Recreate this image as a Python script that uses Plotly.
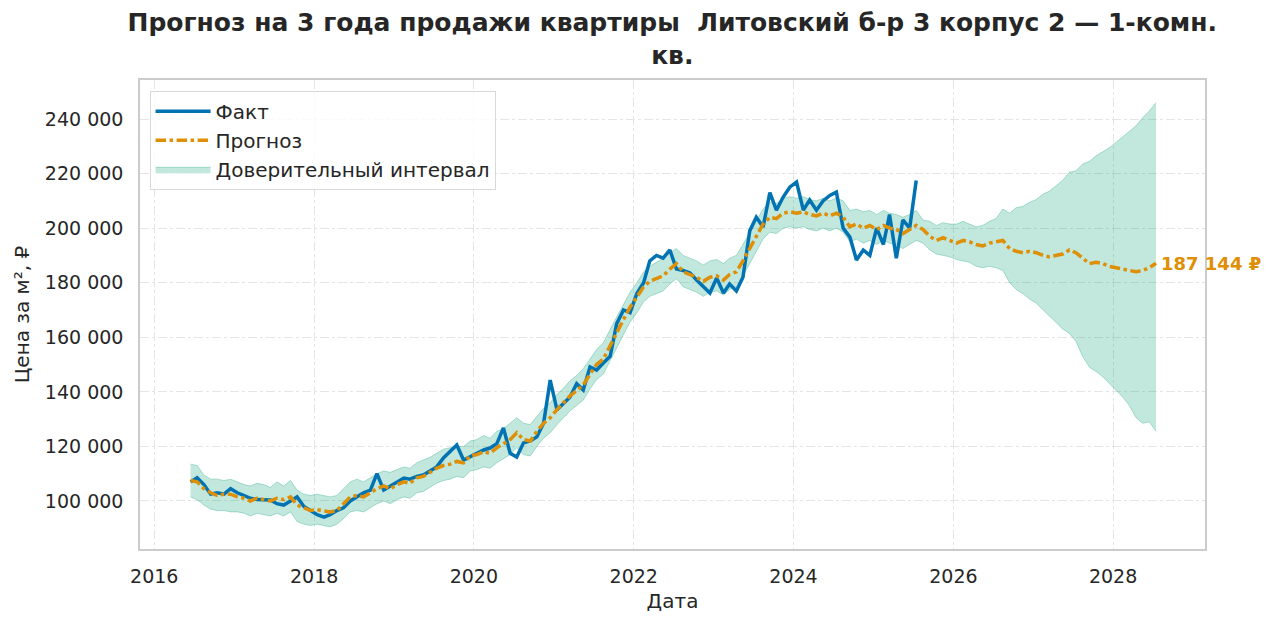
import pandas as pd
import plotly.graph_objects as go

# ---- data (monthly) ----
actual_start = "2016-06-01"
forecast_start = "2016-06-01"

actual_values = [
    # 2016 Jun-Dec
    107000, 108500, 106000, 102500, 103000, 102500, 104500,
    # 2017
    103000, 102000, 101000, 100500, 100500, 100400, 99000, 98500, 100000, 101500, 98000, 96700,
    # 2018
    95000, 94100, 95000, 96500, 97500, 100000, 101500, 103000, 104000, 110000, 104000, 105500,
    # 2019
    107000, 108400, 108000, 109000, 109500, 111000, 112500, 115800, 118000, 120500, 115000, 116100,
    # 2020
    117500, 118700, 119400, 121000, 126800, 117500, 116100, 121300, 122000, 123500, 128600, 144300,
    # 2021
    133400, 135900, 138000, 143000, 140700, 149100, 148000, 150600, 153000, 165000, 170000, 169000,
    # 2022
    176000, 180000, 188000, 190000, 189000, 192000, 185000, 184500, 183600, 181000, 178400, 176200,
    # 2023
    181700, 176200, 179500, 177000, 182000, 199000, 204000, 200400, 213000, 206600, 211400, 215000,
    # 2024
    216900, 206600, 210300, 206600, 210000, 212000, 213200, 200000, 196700, 188300, 192000, 190000,
    # 2025 Jan-Jul
    200000, 194000, 205000, 189000, 203000, 200000, 217500,
]

forecast_values = [
    # 2016 Jun-Dec
    107500, 107000, 104500, 103000, 102000, 102500, 102500,
    # 2017
    101500, 101000, 100000, 101000, 100500, 100000, 101000, 100500, 101500, 98500, 97500, 96500,
    # 2018
    96800, 96500, 96000, 96500, 99000, 101500, 102000, 101500, 103000, 104500, 105500, 104500,
    # 2019
    106000, 107000, 106500, 108500, 109000, 110500, 112000, 113000, 113500, 114500, 114000, 116500,
    # 2020
    117000, 118000, 117500, 119500, 121000, 122500, 125000, 122500, 122000, 125500, 128500, 130500,
    # 2021
    133500, 136000, 138500, 140500, 142500, 146500, 150000, 152000, 157000, 162000, 166500, 171000,
    # 2022
    174500, 178500, 180500, 181500, 182500, 185000, 187000, 184000, 183000, 182000, 180500, 182000,
    # 2023
    182500, 181000, 183000, 184000, 188000, 192500, 197000, 201500, 204000, 203500, 205500, 206000,
    # 2024
    205500, 206000, 205000, 204500, 205500, 204500, 205500, 204000, 200500, 201500, 200000, 201000,
    # 2025
    199500, 201000, 200000, 199500, 198000, 199500, 201000, 199500, 197000, 195500, 196500, 195500,
    # 2026
    194500, 195500, 195000, 194000, 193500, 194500, 195000, 195500, 192500, 191500, 191000, 191500,
    # 2027
    191000, 190000, 189500, 190000, 190500, 192000, 191000, 189000, 187000, 187500, 187000, 186000,
    # 2028 Jan-Jul
    185500, 185000, 184500, 184000, 184500, 185500, 187144,
]

upper_values = [
    # 2016
    113500, 113000, 109500, 108000, 108000, 107500, 108000,
    # 2017
    107000, 106000, 105500, 106500, 106000, 105000, 107000, 105500, 107500, 104000, 102500, 102000,
    # 2018
    102500, 102000, 101500, 102000, 104500, 107000, 108000, 107000, 108500, 110000, 111000, 110500,
    # 2019
    111500, 112500, 112000, 114000, 115000, 116000, 117500, 119000, 119500, 120000, 120000, 122000,
    # 2020
    122500, 124000, 123000, 125500, 126500, 128500, 130500, 128500, 128000, 131000, 134000, 136000,
    # 2021
    139000, 141500, 144000, 146000, 148500, 152000, 155500, 158000, 163000, 167500, 172000, 176500,
    # 2022
    180000, 184000, 186000, 187500, 189000, 191000, 192500, 190000, 189000, 188000, 186500, 188000,
    # 2023
    188500, 187000, 189000, 190000, 194000, 198500, 203000, 207000, 209500, 209000, 211000, 211500,
    # 2024
    211000, 211500, 210500, 210000, 211000, 210000, 211000, 210000, 206500, 207000, 206000, 206500,
    # 2025
    205000, 206500, 205500, 205000, 204000, 205000, 206500, 203000, 202500, 201000, 202000, 201500,
    # 2026
    201500, 202500, 201500, 200500, 201000, 202500, 203500, 207000, 205500, 207500, 208000, 209500,
    # 2027
    210500, 212500, 213500, 215500, 217500, 220500, 221000, 223500, 224500, 226500, 228000, 229500,
    # 2028
    231500, 233500, 235500, 237500, 240500, 243000, 246000,
]

lower_values = [
    # 2016
    101500, 100500, 98500, 97000, 96500, 96500, 96000,
    # 2017
    96000, 95500, 94500, 95500, 95000, 94500, 95500, 94500, 96000, 92500, 91500, 91000,
    # 2018
    91500, 91000, 90500, 91500, 93500, 96000, 96500, 96000, 97500, 99000, 100000, 99000,
    # 2019
    100500, 101500, 101000, 103000, 103500, 105000, 106500, 107500, 108000, 109000, 108500, 111000,
    # 2020
    111500, 112500, 112000, 114000, 115500, 117000, 119500, 117000, 116500, 120000, 123000, 125000,
    # 2021
    128000, 130500, 133000, 135000, 137000, 141000, 144500, 146500, 151500, 156500, 161000, 165500,
    # 2022
    169000, 173000, 175000, 176000, 177000, 179500, 181500, 178500, 177500, 176500, 175000, 176500,
    # 2023
    177000, 175500, 177500, 178500, 182500, 187000, 191500, 196000, 198500, 198000, 200000, 200500,
    # 2024
    200000, 200500, 199500, 199000, 200000, 199000, 200000, 198500, 195000, 196000, 194500, 195500,
    # 2025
    194000, 195500, 194500, 194000, 192500, 194000, 195500, 194500, 192000, 190500, 190000, 189500,
    # 2026
    188500, 188000, 187500, 186000, 185500, 186000, 185500, 184500, 180000, 177500, 176000, 174000,
    # 2027
    172500, 170000, 168000, 165500, 163000, 161500, 158500, 153000, 149000, 147500, 145500, 143000,
    # 2028
    140500, 138000, 135000, 130500, 128500, 129000, 125500,
]

title_text = "Прогноз на 3 года продажи квартиры  Литовский б-р 3 корпус 2 — 1-комн.<br>кв."
x_title = "Дата"
y_title = "Цена за м², ₽"
legend_names = ["Факт", "Прогноз", "Доверительный интервал"]

actual_dates = pd.date_range(actual_start, periods=len(actual_values), freq="MS") + pd.Timedelta(days=14)
forecast_dates = pd.date_range(forecast_start, periods=len(forecast_values), freq="MS") + pd.Timedelta(days=14)

BLUE = "#0173b2"
ORANGE = "#de8f05"
GREEN_FILL = "rgba(2,158,115,0.24)"
GREEN_LINE = "rgba(2,158,115,0.30)"
FONT = "DejaVu Sans"
TXT = "#262626"

fig = go.Figure()

fig.add_trace(go.Scatter(
    x=forecast_dates, y=lower_values, mode="lines",
    line=dict(color=GREEN_LINE, width=1), showlegend=False, hoverinfo="skip",
))
fig.add_trace(go.Scatter(
    x=forecast_dates, y=upper_values, mode="lines", fill="tonexty",
    fillcolor=GREEN_FILL, line=dict(color=GREEN_LINE, width=1),
    name=legend_names[2], legendrank=3,
))
fig.add_trace(go.Scatter(
    x=actual_dates, y=actual_values, mode="lines",
    line=dict(color=BLUE, width=3.5), name=legend_names[0], legendrank=1,
))
fig.add_trace(go.Scatter(
    x=forecast_dates, y=forecast_values, mode="lines",
    line=dict(color=ORANGE, width=3.5, dash="dashdot"), name=legend_names[1], legendrank=2,
))

last_val = forecast_values[-1]
label = f"{last_val:,.0f}".replace(",", " ") + " ₽"
fig.add_annotation(
    x=forecast_dates[-1], y=last_val, text=f"<b>{label}</b>", showarrow=False,
    xanchor="left", yanchor="middle", xshift=3,
    font=dict(family=FONT, size=18, color=ORANGE),
)

grid = dict(showgrid=True, gridcolor="#e5e5e5", griddash="dashdot", gridwidth=1,
            showline=True, linecolor="#cccccc", linewidth=1.5, mirror=True,
            ticks="", zeroline=False,
            tickfont=dict(family=FONT, size=19, color=TXT))

fig.update_layout(
    width=1275, height=626,
    paper_bgcolor="white", plot_bgcolor="white",
    margin=dict(l=132, r=78, t=72, b=85),
    separators=", ",
    font=dict(family=FONT, color=TXT),
    title=dict(text=f"<b>{title_text}</b>", x=0.521, xanchor="center",
               y=0.963, yanchor="top",
               font=dict(family=FONT, size=25, color=TXT)),
    legend=dict(x=0.009, y=0.977, xanchor="left", yanchor="top",
                bgcolor="rgba(255,255,255,0.8)", bordercolor="#d9d9d9", borderwidth=1,
                font=dict(family=FONT, size=20, color=TXT),
                traceorder="normal", itemwidth=55),
)
fig.update_xaxes(
    **grid, range=["2015-10-28", "2029-02-24"], tickformat="%Y",
    dtick="M24", tick0="2016-01-01", ticklabelstandoff=9,
    title=dict(text=x_title, font=dict(family=FONT, size=20, color=TXT), standoff=8),
)
fig.update_yaxes(
    **grid, range=[82400, 254300], dtick=20000, tick0=100000, tickformat=",d",
    ticklabelstandoff=11,
    title=dict(text=y_title, font=dict(family=FONT, size=20, color=TXT), standoff=10),
)

fig.write_html("out.html")
